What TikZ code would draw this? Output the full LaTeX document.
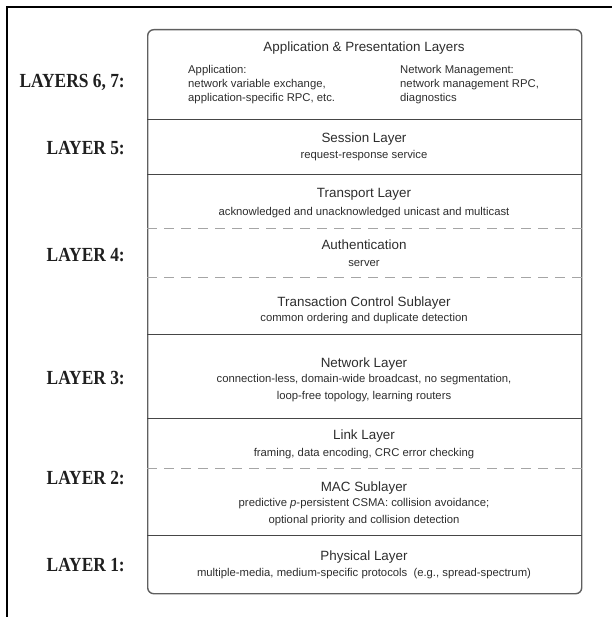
\documentclass[tikz,border=0pt]{standalone}
\usepackage{fontspec}
\usepackage{graphicx}
\setmainfont{Liberation Sans}
\newfontfamily\labfont{Liberation Serif}
\definecolor{txt}{RGB}{45,45,45}
\definecolor{boxc}{RGB}{95,95,95}
\definecolor{sepc}{RGB}{70,70,70}
\definecolor{dashc}{RGB}{165,165,165}
\begin{document}
\begin{tikzpicture}[x=1pt,y=-1pt,
  title/.style={font=\fontsize{13.4}{16}\selectfont, text=txt, anchor=base, inner sep=0pt},
  sub/.style={font=\fontsize{11.3}{14}\selectfont, text=txt, anchor=base, inner sep=0pt},
  col/.style={font=\fontsize{11.3}{14}\selectfont, text=txt, anchor=base west, inner sep=0pt},
  lab/.style={font=\labfont\bfseries\fontsize{20}{22}\selectfont, text=black!88, anchor=base east, inner sep=0pt},
  solidsep/.style={draw=sepc, line width=1pt},
  dashsep/.style={draw=dashc, line width=1pt, dash pattern=on 10pt off 7pt},
  frame/.style={draw=black, line width=2.2pt}]
\useasboundingbox (0,0) rectangle (612,617);
% outer frame
\coordinate (fb) at (6.7,617);
\coordinate (fc) at (6.7,6.7);
\coordinate (fr) at (612,6.7);
\draw[frame] (fb) -- (fc) -- (fr);
% stack box
\node[draw=boxc, line width=1.4pt, rounded corners=6pt, minimum width=434pt, minimum height=564pt, anchor=north west, inner sep=0pt] (stack) at (147,29) {};
% separators
\draw[solidsep] (stack.west |- 0,120) -- (stack.east |- 0,120);
\draw[solidsep] (stack.west |- 0,175) -- (stack.east |- 0,175);
\draw[dashsep] (stack.west |- 0,229) -- (stack.east |- 0,229);
\draw[dashsep] (stack.west |- 0,277) -- (stack.east |- 0,277);
\draw[solidsep] (stack.west |- 0,334) -- (stack.east |- 0,334);
\draw[solidsep] (stack.west |- 0,418) -- (stack.east |- 0,418);
\draw[dashsep] (stack.west |- 0,468) -- (stack.east |- 0,468);
\draw[solidsep] (stack.west |- 0,535) -- (stack.east |- 0,535);
% layers 6,7
\node[title] (app) at (364,52) {Application \& Presentation Layers};
\node[col] (appa) at (188,74) {Application:};
\node[col] (appb) at (188,88) {network variable exchange,};
\node[col] (appc) at (188,102) {application-specific RPC, etc.};
\node[col] (nma) at (400,74) {Network Management:};
\node[col] (nmb) at (400,88) {network management RPC,};
\node[col] (nmc) at (400,102) {diagnostics};
% session
\node[title] (ses) at (364,143) {Session Layer};
\node[sub] (sess) at (364,159) {request-response service};
% transport
\node[title] (tra) at (364,198) {Transport Layer};
\node[sub] (tras) at (364,215.5) {acknowledged and unacknowledged unicast and multicast};
\node[title] (aut) at (364,250) {Authentication};
\node[sub] (auts) at (364,266) {server};
\node[title] (tcs) at (364,306) {Transaction Control Sublayer};
\node[sub] (tcss) at (364,321.5) {common ordering and duplicate detection};
% network
\node[title] (net) at (364,367.5) {Network Layer};
\node[sub] (neta) at (364,382) {connection-less, domain-wide broadcast, no segmentation,};
\node[sub] (netb) at (364,399) {loop-free topology, learning routers};
% link
\node[title] (lnk) at (364,439) {Link Layer};
\node[sub] (lnks) at (364,456) {framing, data encoding, CRC error checking};
\node[title] (mac) at (364,491) {MAC Sublayer};
\node[sub] (maca) at (364,506) {predictive \textit{p}-persistent CSMA: collision avoidance;};
\node[sub] (macb) at (364,523) {optional priority and collision detection};
% physical
\node[title] (phy) at (364,560.5) {Physical Layer};
\node[sub] (phys) at (364,576.5) {multiple-media, medium-specific protocols\hspace{3pt} (e.g., spread-spectrum)};
% layer labels
\node[lab] (l67) at (125,88) {\scalebox{0.87}[1]{LAYERS 6, 7:}};
\node[lab] (l5) at (125,154.5) {\scalebox{0.87}[1]{LAYER 5:}};
\node[lab] (l4) at (125,261) {\scalebox{0.87}[1]{LAYER 4:}};
\node[lab] (l3) at (125,384) {\scalebox{0.87}[1]{LAYER 3:}};
\node[lab] (l2) at (125,484) {\scalebox{0.87}[1]{LAYER 2:}};
\node[lab] (l1) at (125,571) {\scalebox{0.87}[1]{LAYER 1:}};
\end{tikzpicture}
\end{document}
